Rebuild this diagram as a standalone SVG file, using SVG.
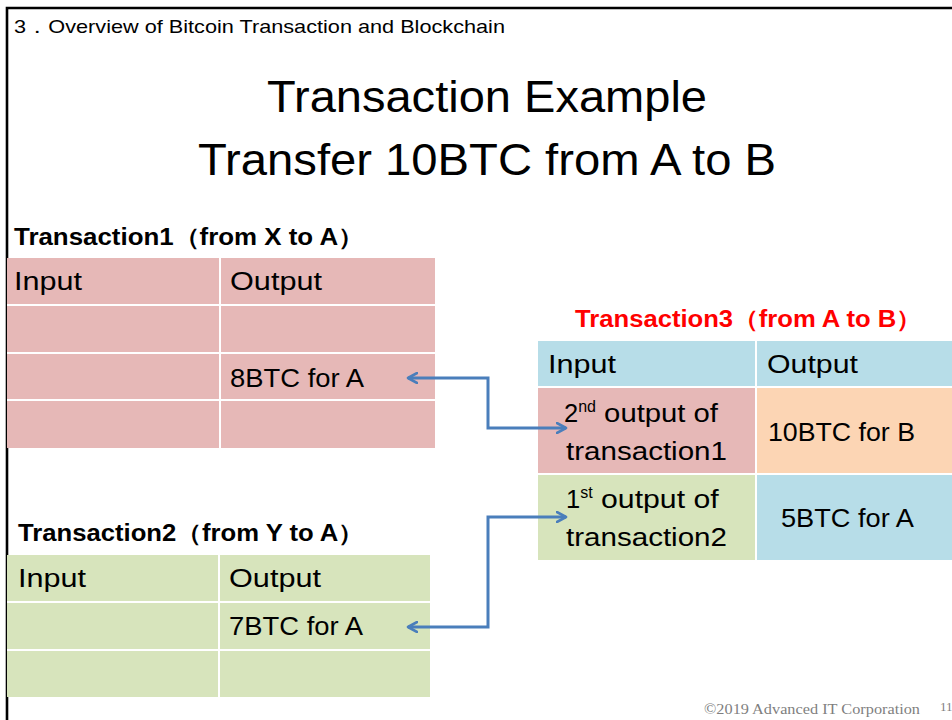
<svg xmlns="http://www.w3.org/2000/svg" width="952" height="720" viewBox="0 0 952 720">
  <defs>
    <style>
      .t { font-family: "Liberation Sans", Arial, sans-serif; fill: #000; }
      .cell { font-family: "Liberation Sans", Arial, sans-serif; font-size: 25.5px; fill: #000; }
      .ttl { font-family: "Liberation Sans", Arial, sans-serif; font-size: 23px; font-weight: bold; }
      .grid { stroke: #fff; stroke-width: 2; fill: none; }
      .pink { fill: #e6b8b7; }
      .green { fill: #d7e4bc; }
      .blue { fill: #b7dde8; }
      .orange { fill: #fcd5b4; }
      .link { stroke: #4a7ebb; stroke-width: 3; fill: none; }
    </style>
    <marker id="head" viewBox="0 0 12 12" refX="10" refY="6" markerWidth="12" markerHeight="12" markerUnits="userSpaceOnUse" orient="auto-start-reverse">
      <path d="M1,1 L10,6 L1,11" fill="none" stroke="#4a7ebb" stroke-width="2.6" stroke-linecap="round" stroke-linejoin="round"/>
    </marker>
  </defs>

  <rect width="952" height="720" fill="#fff"/>
  <!-- slide frame -->
  <path d="M7,720 V8 H952" fill="none" stroke="#000" stroke-width="2.6"/>

  <text class="t" x="14" y="33" font-size="18.5" textLength="491" lengthAdjust="spacingAndGlyphs">3．Overview of Bitcoin Transaction and Blockchain</text>

  <g id="title">
    <text class="t" x="487" y="112" font-size="44" text-anchor="middle" textLength="440" lengthAdjust="spacingAndGlyphs">Transaction Example</text>
    <text class="t" x="487" y="175" font-size="44" text-anchor="middle" textLength="578" lengthAdjust="spacingAndGlyphs">Transfer 10BTC from A to B</text>
  </g>

  <!-- Transaction 1 -->
  <g id="tx1">
    <text class="ttl" x="14" y="245" textLength="350" lengthAdjust="spacingAndGlyphs">Transaction1（from X to A）</text>
    <rect class="pink" x="7" y="258" width="428" height="190"/>
    <path class="grid" d="M220,258 V448 M7,305 H435 M7,353 H435 M7,400 H435"/>
    <text class="cell" x="14" y="290" textLength="68" lengthAdjust="spacingAndGlyphs">Input</text>
    <text class="cell" x="230" y="290" textLength="92" lengthAdjust="spacingAndGlyphs">Output</text>
    <text class="cell" x="230" y="387" textLength="134" lengthAdjust="spacingAndGlyphs">8BTC for A</text>
  </g>

  <!-- Transaction 2 -->
  <g id="tx2">
    <text class="ttl" x="18" y="541" textLength="346" lengthAdjust="spacingAndGlyphs">Transaction2（from Y to A）</text>
    <rect class="green" x="7" y="555" width="423" height="142"/>
    <path class="grid" d="M219,555 V697 M7,602 H430 M7,650 H430"/>
    <text class="cell" x="18" y="587" textLength="68" lengthAdjust="spacingAndGlyphs">Input</text>
    <text class="cell" x="229" y="587" textLength="92" lengthAdjust="spacingAndGlyphs">Output</text>
    <text class="cell" x="229" y="635" textLength="134" lengthAdjust="spacingAndGlyphs">7BTC for A</text>
  </g>

  <!-- Transaction 3 -->
  <g id="tx3">
    <text class="ttl" x="575" y="327" fill="#ff0000" textLength="347" lengthAdjust="spacingAndGlyphs">Transaction3（from A to B）</text>
    <rect class="blue" x="538" y="341" width="414" height="46"/>
    <rect class="pink" x="538" y="387" width="218" height="87"/>
    <rect class="orange" x="756" y="387" width="196" height="87"/>
    <rect class="green" x="538" y="474" width="218" height="86"/>
    <rect class="blue" x="756" y="474" width="196" height="86"/>
    <path class="grid" d="M756,341 V560 M538,387 H952 M538,474 H952"/>
    <text class="cell" x="548" y="373" textLength="68" lengthAdjust="spacingAndGlyphs">Input</text>
    <text class="cell" x="767" y="373" textLength="91" lengthAdjust="spacingAndGlyphs">Output</text>
    <text class="cell" x="564" y="422">2<tspan font-size="16" dy="-10">nd</tspan><tspan dy="10" textLength="122" lengthAdjust="spacingAndGlyphs"> output of</tspan></text>
    <text class="cell" x="566" y="460" textLength="161" lengthAdjust="spacingAndGlyphs">transaction1</text>
    <text class="cell" x="768" y="441" textLength="147" lengthAdjust="spacingAndGlyphs">10BTC for B</text>
    <text class="cell" x="566" y="508">1<tspan font-size="16" dy="-10">st</tspan><tspan dy="10" textLength="126" lengthAdjust="spacingAndGlyphs"> output of</tspan></text>
    <text class="cell" x="566" y="546" textLength="161" lengthAdjust="spacingAndGlyphs">transaction2</text>
    <text class="cell" x="781" y="527" textLength="133" lengthAdjust="spacingAndGlyphs">5BTC for A</text>
  </g>

  <g id="connectors">
    <path class="link" d="M408,378 H488 V428 H566" marker-start="url(#head)" marker-end="url(#head)"/>
    <path class="link" d="M408,627 H488 V517 H566" marker-start="url(#head)" marker-end="url(#head)"/>
  </g>

  <g id="footer">
    <text x="704" y="714" font-family="Liberation Serif, serif" font-size="15" fill="#7f7f7f" textLength="216" lengthAdjust="spacingAndGlyphs">©2019  Advanced IT Corporation</text>
    <text x="940" y="711" font-family="Liberation Serif, serif" font-size="13" fill="#7f7f7f">11</text>
  </g>
</svg>
